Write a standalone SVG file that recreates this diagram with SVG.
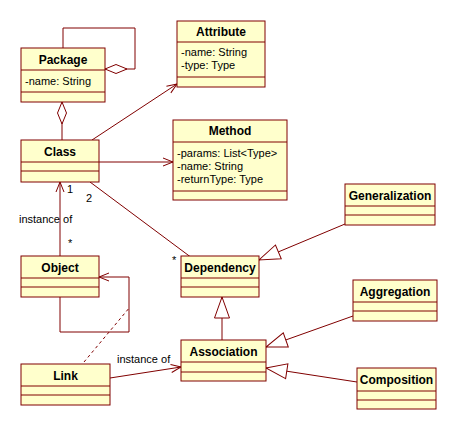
<svg xmlns="http://www.w3.org/2000/svg" width="458" height="430" viewBox="0 0 458 430">
<defs>
<style>
.box{fill:#ffffcc;stroke:#800000;stroke-width:1}
.div{stroke:#800000;stroke-width:1}
.t{font-family:"Liberation Sans",Arial,sans-serif;font-size:12px;font-weight:bold;fill:#000;text-anchor:middle}
.a{font-family:"Liberation Sans",Arial,sans-serif;font-size:11px;fill:#000}
.c{fill:none;stroke:#800000;stroke-width:1}
.arr{marker-end:url(#open)}
.gen{marker-end:url(#tri)}
.dash{stroke-dasharray:3,3}
</style>
<marker id="open" markerUnits="userSpaceOnUse" viewBox="0 0 11 10" refX="10" refY="5" markerWidth="11" markerHeight="10" orient="auto" overflow="visible">
<path d="M0,1 L10,5 L0,9" fill="none" stroke="#800000" stroke-width="1"/>
</marker>
<marker id="tri" markerUnits="userSpaceOnUse" viewBox="0 0 21 16" refX="21" refY="8" markerWidth="21" markerHeight="16" orient="auto" overflow="visible">
<path d="M0,0.5 L21,8 L0,15.5 Z" fill="#ffffff" stroke="#800000" stroke-width="1"/>
</marker>
<marker id="dia" markerUnits="userSpaceOnUse" viewBox="0 0 22 9" refX="0" refY="4.5" markerWidth="22" markerHeight="9" orient="auto" overflow="visible">
<path d="M0,4.5 L11,0 L22,4.5 L11,9 Z" fill="#ffffff" stroke="#800000" stroke-width="1"/>
</marker>
</defs>
<rect width="458" height="430" fill="#ffffff"/>
<g id="connectors">
<path class="c" d="M105,69 L135,69 L135,28 L63,28 L63,48" marker-start="url(#dia)"/>
<line class="c" x1="62" y1="102" x2="62" y2="140" marker-start="url(#dia)"/>
<line class="c arr" x1="92" y1="140" x2="177" y2="84"/>
<line class="c arr" x1="99" y1="162" x2="173" y2="162"/>
<line class="c" x1="90" y1="182" x2="192" y2="258"/>
<line class="c arr" x1="60" y1="256" x2="60" y2="182"/>
<path class="c arr" d="M60,297 L60,332 L129,332 L129,277 L99,277"/>
<line class="c dash" x1="84" y1="362" x2="130" y2="307"/>
<line class="c arr" x1="110" y1="378" x2="181" y2="367"/>
<line class="c gen" x1="222" y1="340" x2="222" y2="297"/>
<line class="c gen" x1="345" y1="224" x2="259" y2="260"/>
<line class="c gen" x1="353" y1="316" x2="266" y2="347"/>
<line class="c gen" x1="357" y1="382" x2="266" y2="368"/>
<text class="a" x="67" y="193">1</text>
<text class="a" x="86" y="202">2</text>
<text class="a" x="19" y="223">instance of</text>
<text class="a" x="68" y="247">*</text>
<text class="a" x="172" y="264">*</text>
<text class="a" x="117" y="363">instance of</text>
</g>
<g id="Package">
<rect class="box" x="21" y="48" width="84" height="54"/>
<line class="div" x1="21" y1="70" x2="105" y2="70"/>
<line class="div" x1="21" y1="92" x2="105" y2="92"/>
<text class="t" x="63" y="64">Package</text>
<text class="a" x="25" y="85">-name: String</text>
</g>
<g id="Attribute">
<rect class="box" x="177" y="21" width="88" height="66"/>
<line class="div" x1="177" y1="42" x2="265" y2="42"/>
<line class="div" x1="177" y1="77" x2="265" y2="77"/>
<text class="t" x="221" y="36">Attribute</text>
<text class="a" x="181" y="56">-name: String</text>
<text class="a" x="181" y="69">-type: Type</text>
</g>
<g id="Method">
<rect class="box" x="173" y="120" width="114" height="80"/>
<line class="div" x1="173" y1="142" x2="287" y2="142"/>
<line class="div" x1="173" y1="191" x2="287" y2="191"/>
<text class="t" x="230" y="135">Method</text>
<text class="a" x="177" y="157">-params: List&lt;Type&gt;</text>
<text class="a" x="177" y="170">-name: String</text>
<text class="a" x="177" y="183">-returnType: Type</text>
</g>
<g id="Class">
<rect class="box" x="21" y="140" width="78" height="42"/>
<line class="div" x1="21" y1="162" x2="99" y2="162"/>
<line class="div" x1="21" y1="171" x2="99" y2="171"/>
<text class="t" x="60" y="156">Class</text>
</g>
<g id="Object">
<rect class="box" x="21" y="256" width="78" height="41"/>
<line class="div" x1="21" y1="278" x2="99" y2="278"/>
<line class="div" x1="21" y1="287" x2="99" y2="287"/>
<text class="t" x="60" y="272">Object</text>
</g>
<g id="Link">
<rect class="box" x="21" y="364" width="89" height="41"/>
<line class="div" x1="21" y1="386" x2="110" y2="386"/>
<line class="div" x1="21" y1="395" x2="110" y2="395"/>
<text class="t" x="65.5" y="380">Link</text>
</g>
<g id="Dependency">
<rect class="box" x="181" y="256" width="78" height="41"/>
<line class="div" x1="181" y1="278" x2="259" y2="278"/>
<line class="div" x1="181" y1="287" x2="259" y2="287"/>
<text class="t" x="220" y="272">Dependency</text>
</g>
<g id="Association">
<rect class="box" x="181" y="340" width="85" height="41"/>
<line class="div" x1="181" y1="362" x2="266" y2="362"/>
<line class="div" x1="181" y1="372" x2="266" y2="372"/>
<text class="t" x="223.5" y="356">Association</text>
</g>
<g id="Generalization">
<rect class="box" x="345" y="184" width="90" height="41"/>
<line class="div" x1="345" y1="206" x2="435" y2="206"/>
<line class="div" x1="345" y1="215" x2="435" y2="215"/>
<text class="t" x="390" y="200">Generalization</text>
</g>
<g id="Aggregation">
<rect class="box" x="353" y="280" width="84" height="41"/>
<line class="div" x1="353" y1="302" x2="437" y2="302"/>
<line class="div" x1="353" y1="311" x2="437" y2="311"/>
<text class="t" x="395" y="296">Aggregation</text>
</g>
<g id="Composition">
<rect class="box" x="357" y="368" width="79" height="41"/>
<line class="div" x1="357" y1="391" x2="436" y2="391"/>
<line class="div" x1="357" y1="400" x2="436" y2="400"/>
<text class="t" x="396.5" y="384">Composition</text>
</g>
</svg>
